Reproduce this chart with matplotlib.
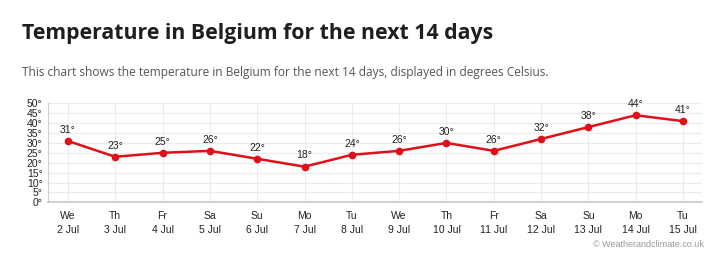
import matplotlib.pyplot as plt

days = ['We', 'Th', 'Fr', 'Sa', 'Su', 'Mo', 'Tu', 'We', 'Th', 'Fr', 'Sa', 'Su', 'Mo', 'Tu']
dates = ['2 Jul', '3 Jul', '4 Jul', '5 Jul', '6 Jul', '7 Jul', '8 Jul', '9 Jul',
         '10 Jul', '11 Jul', '12 Jul', '13 Jul', '14 Jul', '15 Jul']
temps = [31, 23, 25, 26, 22, 18, 24, 26, 30, 26, 32, 38, 44, 41]
y_ticks = list(range(0, 55, 5))

RED = '#e0101a'

fig = plt.figure(figsize=(7.2, 2.67), dpi=100)
ax = fig.add_axes([0.0667, 0.2423, 0.9083, 0.3707])

x = list(range(len(temps)))
ax.plot(x, temps, color=RED, lw=1.8, marker='o', ms=4.5, zorder=3)
for xi, t in zip(x, temps):
    ax.annotate('{}°'.format(t), (xi, t), xytext=(0, 4.5), textcoords='offset points',
                ha='center', va='bottom', fontsize=7.5, color='#222222',
                family='Liberation Sans')

ax.set_xlim(-0.42, 13.4)
ax.set_ylim(0, 50)
ax.set_yticks(y_ticks)
ax.set_yticklabels(['{}°'.format(v) for v in y_ticks])
ax.set_xticks(x)
ax.set_xticklabels(['{}\n{}'.format(d, dt) for d, dt in zip(days, dates)],
                   linespacing=1.6)
for lab in ax.get_xticklabels() + ax.get_yticklabels():
    lab.set_family('Liberation Sans')
    lab.set_fontsize(7.5)
    lab.set_color('#222222')
ax.tick_params(axis='both', length=0)
ax.tick_params(axis='x', pad=6)
ax.tick_params(axis='y', pad=4)
ax.grid(True, color='#ebebeb', lw=0.8)
ax.set_axisbelow(True)
for side in ['top', 'right']:
    ax.spines[side].set_visible(False)
ax.spines['left'].set_color('#d0d0d0')
ax.spines['bottom'].set_color('#c8c8c8')
ax.spines['bottom'].set_linewidth(1.2)

fig.text(0.0306, 0.873, 'Temperature in Belgium for the next 14 days', fontsize=15.3,
         fontweight='bold', family='Open Sans', color='#1e1e1e', va='center')
fig.text(0.0306, 0.727, 'This chart shows the temperature in Belgium for the next 14 days, '
         'displayed in degrees Celsius.', fontsize=8.6, family='Open Sans',
         color='#555555', va='center')
fig.text(0.977, 0.086, '© Weatherandclimate.co.uk', fontsize=6.5, family='Liberation Sans',
         color='#999999', ha='right', va='center')

fig.savefig('out.png', dpi=100)
